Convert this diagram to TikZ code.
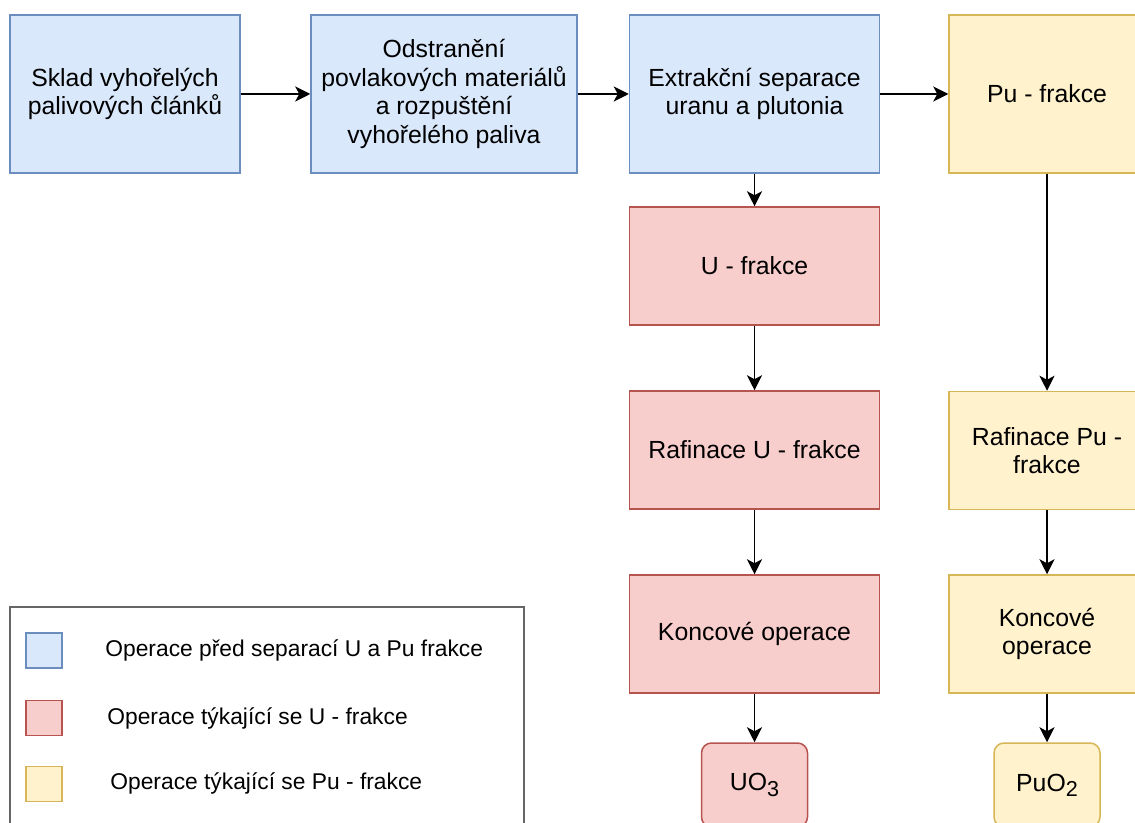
\documentclass[tikz,border=0pt]{standalone}
\usepackage{fontspec}
\setmainfont{Liberation Sans}
\usetikzlibrary{arrows.meta}
\definecolor{bluefill}{HTML}{DAE8FC}
\definecolor{blueline}{HTML}{6C8EBF}
\definecolor{redfill}{HTML}{F8CECC}
\definecolor{redline}{HTML}{B85450}
\definecolor{yellowfill}{HTML}{FFF2CC}
\definecolor{yellowline}{HTML}{D6B656}
\definecolor{legendline}{HTML}{666666}
\newcommand{\lowidx}[1]{\raisebox{-2.6pt}{\fontsize{10.8}{12}\selectfont #1}}
\begin{document}
\begin{tikzpicture}[x=0.5pt, y=-0.5pt,
    box/.style={rectangle, draw, line width=0.75pt, align=center, inner sep=2pt,
        font=\fontsize{12.4}{14.3}\selectfont, minimum height=59pt},
    prepbox/.style={box, fill=bluefill, draw=blueline, minimum height=79pt},
    ubox/.style={box, fill=redfill, draw=redline, minimum width=125pt},
    pubox/.style={box, fill=yellowfill, draw=yellowline, minimum width=98pt},
    product/.style={rounded corners=5pt, minimum width=53pt, minimum height=42pt},
    swatch/.style={rectangle, draw, line width=0.75pt, minimum width=18pt, minimum height=17.5pt, inner sep=0pt},
    legendtext/.style={anchor=west, inner sep=0pt, font=\fontsize{11.4}{13}\selectfont},
    arr/.style={-{Stealth[length=7.5pt, width=7.5pt, inset=2pt]}, line width=0.75pt}]
    \useasboundingbox (0,0) rectangle (1135,823);

    % top row
    \node[prepbox, minimum width=115pt] (sklad) at (125,94) {Sklad vyhořelých\\palivových článků};
    \node[prepbox, minimum width=133pt] (odstr) at (444,94) {Odstranění\\povlakových materiálů\\a rozpuštění\\vyhořelého paliva};
    \node[prepbox, minimum width=125pt] (extr) at (754.5,94) {Extrakční separace\\uranu a plutonia};
    \node[pubox, minimum height=79pt] (pufr) at (1047,94) {Pu - frakce};

    % U branch
    \node[ubox] (ufr) at (754.5,266) {U - frakce};
    \node[ubox] (uraf) at (754.5,450) {Rafinace U - frakce};
    \node[ubox] (ukonc) at (754.5,634) {Koncové operace};
    \node[ubox, product] (uo3) at (754.5,785) {UO\lowidx{3}};

    % Pu branch
    \node[pubox] (puraf) at (1047,450.5) {Rafinace Pu -\\frakce};
    \node[pubox] (pukonc) at (1047,634) {Koncové\\operace};
    \node[pubox, product] (puo2) at (1047,785) {PuO\lowidx{2}};

    \draw[arr] (sklad) -- (odstr);
    \draw[arr] (odstr) -- (extr);
    \draw[arr] (extr) -- (pufr);
    \draw[arr] (extr) -- (ufr);
    \draw[arr] (ufr) -- (uraf);
    \draw[arr] (uraf) -- (ukonc);
    \draw[arr] (ukonc) -- (uo3);
    \draw[arr] (pufr) -- (puraf);
    \draw[arr] (puraf) -- (pukonc);
    \draw[arr] (pukonc) -- (puo2);

    % legend
    \node[rectangle, draw=legendline, line width=0.75pt, minimum width=257pt, minimum height=111.5pt] (legend) at (267,718.5) {};
    \node[swatch, fill=bluefill, draw=blueline] (sblue) at (44,650.5) {};
    \node[swatch, fill=redfill, draw=redline] (sred) at (44,718) {};
    \node[swatch, fill=yellowfill, draw=yellowline] (syellow) at (44,784) {};
    \node[legendtext] (tblue) at (105,650) {Operace před separací U a Pu frakce};
    \node[legendtext] (tred) at (107,718) {Operace týkající se U - frakce};
    \node[legendtext] (tyellow) at (110,783) {Operace týkající se Pu - frakce};
\end{tikzpicture}
\end{document}
